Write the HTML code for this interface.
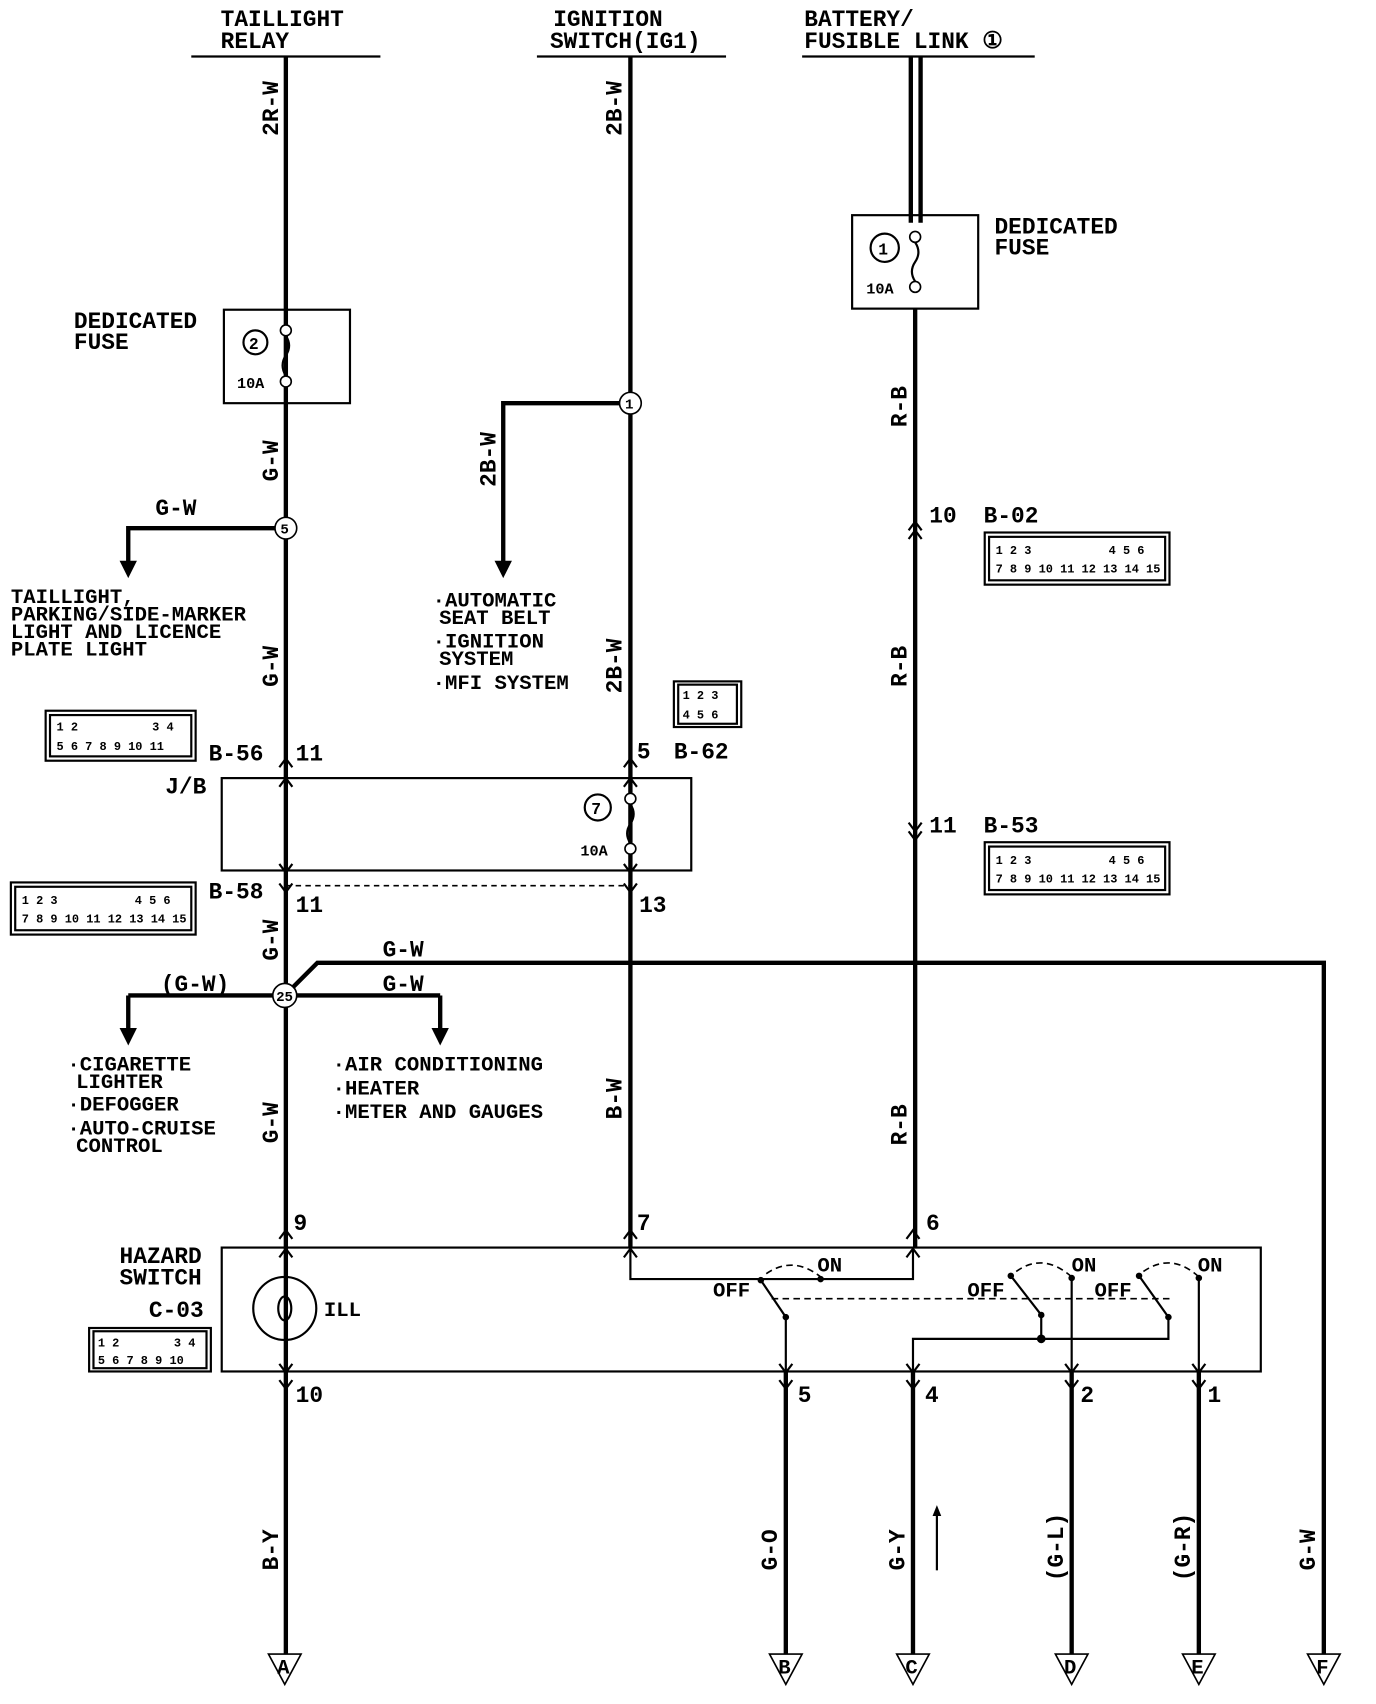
<!DOCTYPE html>
<html><head><meta charset="utf-8"><style>
html,body{margin:0;padding:0;background:#fff}
svg{display:block}
text{font-family:"Liberation Mono",monospace;font-weight:bold;fill:#000}
.t{font-size:21px}
.s{font-size:19px}
.w{stroke:#000;stroke-width:4;fill:none}
.n{stroke:#000;stroke-width:2;fill:none}
.b{stroke:#000;stroke-width:1.5;fill:#fff}
</style></head><body>
<svg width="1376" height="1704" viewBox="0 0 1266 1568" preserveAspectRatio="none" xmlns="http://www.w3.org/2000/svg">
<rect width="1266" height="1568" fill="#fff"/>
<text class="t" x="203" y="24">TAILLIGHT</text>
<text class="t" x="203" y="44">RELAY</text>
<line class="n" x1="176" y1="52" x2="350" y2="52"/>
<text class="t" x="509" y="24">IGNITION</text>
<text class="t" x="506" y="44">SWITCH(IG1)</text>
<line class="n" x1="494" y1="52" x2="668" y2="52"/>
<text class="t" x="740" y="24">BATTERY/</text>
<text class="t" x="740" y="44">FUSIBLE LINK ①</text>
<line class="n" x1="738" y1="52" x2="952" y2="52"/>

<line class="w" x1="263" y1="52" x2="263" y2="1522"/>
<line class="w" x1="580" y1="52" x2="580" y2="1148"/>
<line class="w" x1="838" y1="52" x2="838" y2="205"/>
<line class="w" x1="847" y1="52" x2="847" y2="205"/>
<line class="w" x1="842" y1="284" x2="842" y2="1148"/>
<line class="w" x1="723" y1="1262" x2="723" y2="1522"/>
<line class="w" x1="840" y1="1262" x2="840" y2="1522"/>
<line class="w" x1="986" y1="1262" x2="986" y2="1522"/>
<line class="w" x1="1103" y1="1262" x2="1103" y2="1522"/>
<path class="w" d="M262 916 L292 886 L1218 886 L1218 1522"/>

<g class="b" stroke-width="2">
<path d="M247 1522 L277 1522 L262 1550 Z"/>
<path d="M708 1522 L738 1522 L723 1550 Z"/>
<path d="M825 1522 L855 1522 L840 1550 Z"/>
<path d="M971 1522 L1001 1522 L986 1550 Z"/>
<path d="M1088 1522 L1118 1522 L1103 1550 Z"/>
<path d="M1203 1522 L1233 1522 L1218 1550 Z"/>
</g>
<text class="s" x="255" y="1540" font-size="13">A</text>
<text class="s" x="716" y="1540" font-size="13">B</text>
<text class="s" x="833" y="1540" font-size="13">C</text>
<text class="s" x="979" y="1540" font-size="13">D</text>
<text class="s" x="1096" y="1540" font-size="13">E</text>
<text class="s" x="1211" y="1540" font-size="13">F</text>

<g class="t">
<text transform="translate(256,125) rotate(-90)">2R-W</text>
<text transform="translate(572,125) rotate(-90)">2B-W</text>
<text transform="translate(256,443) rotate(-90)">G-W</text>
<text transform="translate(256,632) rotate(-90)">G-W</text>
<text transform="translate(456,448) rotate(-90)">2B-W</text>
<text transform="translate(572,638) rotate(-90)">2B-W</text>
<text transform="translate(834,393) rotate(-90)">R-B</text>
<text transform="translate(834,632) rotate(-90)">R-B</text>
<text transform="translate(256,884) rotate(-90)">G-W</text>
<text transform="translate(256,1052) rotate(-90)">G-W</text>
<text transform="translate(572,1030) rotate(-90)">B-W</text>
<text transform="translate(834,1054) rotate(-90)">R-B</text>
<text transform="translate(256,1445) rotate(-90)">B-Y</text>
<text transform="translate(715,1445) rotate(-90)">G-O</text>
<text transform="translate(832,1445) rotate(-90)">G-Y</text>
<text transform="translate(978,1455) rotate(-90)">(G-L)</text>
<text transform="translate(1095,1455) rotate(-90)">(G-R)</text>
<text transform="translate(1210,1445) rotate(-90)">G-W</text>
</g>
<line class="n" x1="862" y1="1390" x2="862" y2="1445"/>
<path d="M858 1395 L862 1385 L866 1395 Z"/>

<rect class="n" x="206" y="285" width="116" height="86"/>
<circle class="b" cx="263" cy="304" r="5"/><circle class="b" cx="263" cy="351" r="5"/>
<path class="n" d="M263 309 q6 9 0 18 q-6 9 0 19"/>
<circle class="n" cx="235" cy="315" r="11"/><text x="229" y="321" font-size="15">2</text>
<text x="218" y="357" font-size="14">10A</text>
<text class="t" x="68" y="302">DEDICATED</text><text class="t" x="68" y="321">FUSE</text>

<rect class="n" x="784" y="198" width="116" height="86"/>
<circle class="b" cx="842" cy="218" r="5"/><circle class="b" cx="842" cy="264" r="5"/>
<path class="n" d="M842 223 q6 9 0 18 q-6 9 0 18"/>
<circle class="n" cx="814" cy="228" r="13"/><text x="808" y="234" font-size="15">1</text>
<text x="797" y="270" font-size="14">10A</text>
<text class="t" x="915" y="215">DEDICATED</text><text class="t" x="915" y="234">FUSE</text>

<path class="w" d="M580 371 L463 371 L463 520"/>
<path d="M455 516 L471 516 L463 532 Z"/>
<circle class="b" cx="580" cy="371" r="10" stroke-width="2"/><text x="575" y="376" font-size="13">1</text>
<text class="s" x="398" y="558">·AUTOMATIC</text><text class="s" x="404" y="574">SEAT BELT</text>
<text class="s" x="398" y="596">·IGNITION</text><text class="s" x="404" y="612">SYSTEM</text>
<text class="s" x="398" y="634">·MFI SYSTEM</text>

<path class="w" d="M263 486 L118 486 L118 520"/>
<path d="M110 516 L126 516 L118 532 Z"/>
<circle class="b" cx="263" cy="486" r="10" stroke-width="2"/><text x="258" y="491" font-size="13">5</text>
<text class="t" x="143" y="474">G-W</text>
<text class="s" x="10" y="555">TAILLIGHT,</text>
<text class="s" x="10" y="571">PARKING/SIDE-MARKER</text>
<text class="s" x="10" y="587">LIGHT AND LICENCE</text>
<text class="s" x="10" y="603">PLATE LIGHT</text>

<text class="t" x="192" y="700">B-56</text><text class="t" x="272" y="700">11</text>
<text class="t" x="586" y="698">5</text><text class="t" x="620" y="698">B-62</text>
<text class="t" x="855" y="481">10</text><text class="t" x="905" y="481">B-02</text>
<text class="t" x="855" y="766">11</text><text class="t" x="905" y="766">B-53</text>
<text class="t" x="192" y="827">B-58</text><text class="t" x="272" y="839">11</text>
<text class="t" x="588" y="839">13</text>
<text class="t" x="152" y="730">J/B</text>

<g class="n" stroke-width="1.5">
<rect x="42" y="654" width="138" height="46"/><rect x="46" y="658" width="130" height="38"/>
<rect x="620" y="627" width="62" height="42"/><rect x="624" y="630" width="54" height="36"/>
<rect x="906" y="490" width="170" height="48"/><rect x="910" y="494" width="162" height="40"/>
<rect x="906" y="775" width="170" height="48"/><rect x="910" y="779" width="162" height="40"/>
<rect x="10" y="812" width="170" height="48"/><rect x="14" y="816" width="162" height="40"/>
<rect x="82" y="1222" width="112" height="40"/><rect x="86" y="1225" width="104" height="34"/>
</g>
<g font-size="11">
<text x="52" y="672">1 2</text><text x="140" y="672">3 4</text><text x="52" y="690">5 6 7 8 9 10 11</text>
<text x="628" y="643">1 2 3</text><text x="628" y="661">4 5 6</text>
<text x="916" y="510">1 2 3</text><text x="1020" y="510">4 5 6</text><text x="916" y="527">7 8 9 10 11 12 13 14 15</text>
<text x="916" y="795">1 2 3</text><text x="1020" y="795">4 5 6</text><text x="916" y="812">7 8 9 10 11 12 13 14 15</text>
<text x="20" y="832">1 2 3</text><text x="124" y="832">4 5 6</text><text x="20" y="849">7 8 9 10 11 12 13 14 15</text>
<text x="90" y="1239">1 2</text><text x="160" y="1239">3 4</text><text x="90" y="1255">5 6 7 8 9 10</text>
</g>

<rect class="n" x="204" y="716" width="432" height="85"/>
<circle class="b" cx="580" cy="735" r="5"/><circle class="b" cx="580" cy="781" r="5"/>
<path class="n" d="M580 740 q6 9 0 18 q-6 9 0 18"/>
<circle class="n" cx="550" cy="743" r="12"/><text x="544" y="749" font-size="15">7</text>
<text x="534" y="787" font-size="14">10A</text>
<line x1="263" y1="815" x2="580" y2="815" stroke="#000" stroke-width="1.5" stroke-dasharray="5,4"/>

<path class="w" d="M118 916 L405 916 M118 916 L118 950 M405 916 L405 950"/>
<path d="M110 946 L126 946 L118 962 Z"/><path d="M397 946 L413 946 L405 962 Z"/>
<circle class="b" cx="262" cy="916" r="11" stroke-width="2"/><text x="254" y="921" font-size="13">25</text>
<text class="t" x="148" y="912">(G-W)</text>
<text class="t" x="352" y="912">G-W</text>
<text class="t" x="352" y="880">G-W</text>
<text class="s" x="62" y="985">·CIGARETTE</text><text class="s" x="70" y="1001">LIGHTER</text>
<text class="s" x="62" y="1022">·DEFOGGER</text>
<text class="s" x="62" y="1044">·AUTO-CRUISE</text><text class="s" x="70" y="1060">CONTROL</text>
<text class="s" x="306" y="985">·AIR CONDITIONING</text>
<text class="s" x="306" y="1007">·HEATER</text>
<text class="s" x="306" y="1029">·METER AND GAUGES</text>

<rect class="n" x="204" y="1148" width="956" height="114"/>
<text class="t" x="110" y="1162">HAZARD</text><text class="t" x="110" y="1182">SWITCH</text>
<text class="t" x="137" y="1212">C-03</text>
<circle class="n" cx="262" cy="1204" r="29"/>
<ellipse class="n" cx="262" cy="1204" rx="6" ry="11"/>
<text class="s" x="298" y="1211">ILL</text>
<text class="t" x="270" y="1132">9</text><text class="t" x="586" y="1132">7</text><text class="t" x="852" y="1132">6</text>
<text class="t" x="272" y="1290">10</text><text class="t" x="734" y="1290">5</text><text class="t" x="851" y="1290">4</text>
<text class="t" x="994" y="1290">2</text><text class="t" x="1111" y="1290">1</text>
<path class="n" d="M580 1148 L580 1177 L840 1177 L840 1148 M700 1177 L755 1177"/>
<path class="n" d="M840 1262 L840 1232 L1075 1232 L1075 1212 M958 1232 L958 1210 M723 1212 L723 1262 M986 1176 L986 1262 M1103 1176 L1103 1262"/>
<path class="n" stroke-width="2.5" d="M700 1178 L723 1212 M930 1174 L958 1210 M1048 1174 L1075 1212"/>
<path stroke="#000" stroke-width="1.5" fill="none" stroke-dasharray="6,4" d="M710 1195 L1080 1195 M705 1172 Q730 1155 755 1175 M935 1170 Q960 1152 986 1175 M1052 1170 Q1078 1152 1103 1175"/>
<g fill="#000"><circle cx="723" cy="1212" r="3"/><circle cx="958" cy="1210" r="3"/><circle cx="958" cy="1232" r="4"/><circle cx="1075" cy="1212" r="3"/><circle cx="755" cy="1177" r="3"/><circle cx="986" cy="1176" r="3"/><circle cx="1103" cy="1176" r="3"/><circle cx="700" cy="1178" r="3"/><circle cx="930" cy="1174" r="3"/><circle cx="1048" cy="1174" r="3"/></g>
<text class="s" x="752" y="1170">ON</text><text class="s" x="986" y="1170">ON</text><text class="s" x="1102" y="1170">ON</text>
<text class="s" x="656" y="1193">OFF</text><text class="s" x="890" y="1193">OFF</text><text class="s" x="1007" y="1193">OFF</text>

<g class="n" stroke-width="2">
<path d="M257 706 L263 698 L269 706 M257 724 L263 716 L269 724 M574 706 L580 698 L586 706 M574 724 L580 716 L586 724"/>
<path d="M257 795 L263 803 L269 795 M257 813 L263 821 L269 813 M574 795 L580 803 L586 795 M574 813 L580 821 L586 813"/>
<path d="M836 488 L842 480 L848 488 M836 496 L842 488 L848 496 M836 765 L842 773 L848 765 M836 757 L842 765 L848 757"/>
<path d="M257 1140 L263 1132 L269 1140 M257 1157 L263 1149 L269 1157 M574 1140 L580 1132 L586 1140 M574 1157 L580 1149 L586 1157 M834 1140 L840 1132 L846 1140 M834 1157 L840 1149 L846 1157"/>
<path d="M257 1255 L263 1263 L269 1255 M257 1270 L263 1278 L269 1270 M717 1255 L723 1263 L729 1255 M717 1270 L723 1278 L729 1270 M834 1255 L840 1263 L846 1255 M834 1270 L840 1278 L846 1270 M980 1255 L986 1263 L992 1255 M980 1270 L986 1278 L992 1270 M1097 1255 L1103 1263 L1109 1255 M1097 1270 L1103 1278 L1109 1270"/>
</g>
</svg>
</body></html>
